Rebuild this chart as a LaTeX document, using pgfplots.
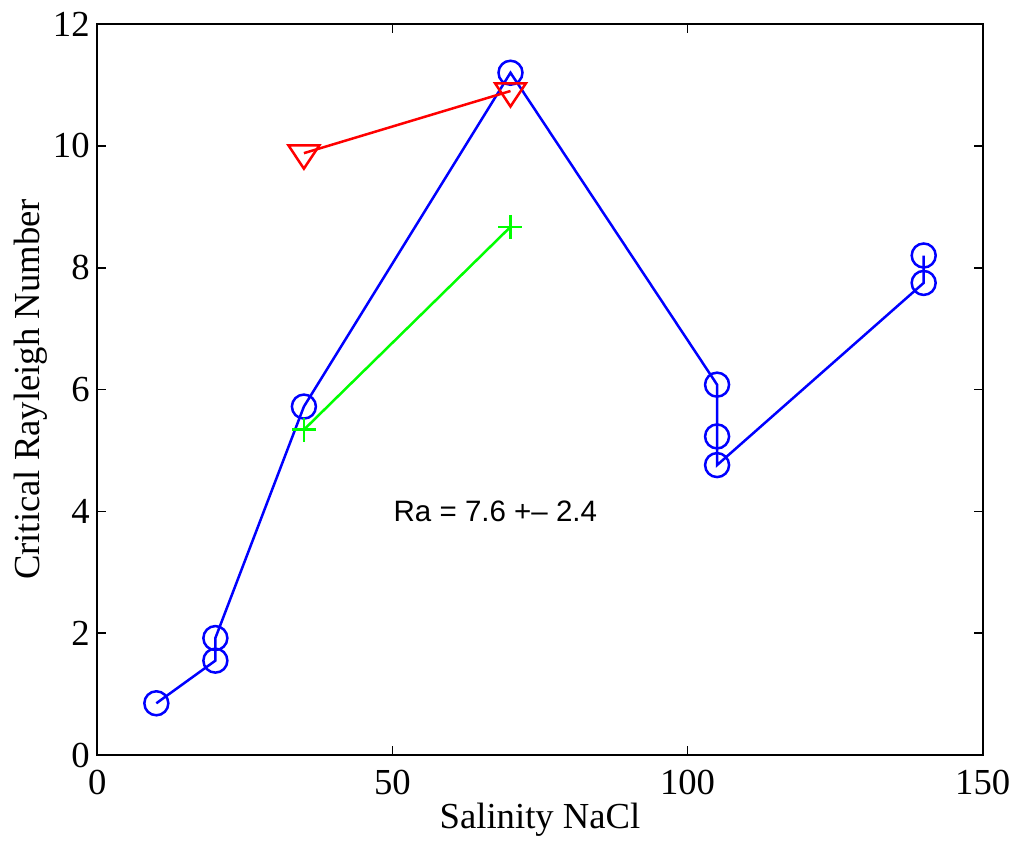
\documentclass[border=0pt]{standalone}
\usepackage{fontspec}
\setmainfont{Liberation Serif}
\newfontfamily\helv{Liberation Sans}
\usepackage{pgfplots}
\pgfplotsset{compat=1.18}
\definecolor{mblue}{RGB}{0,0,255}
\definecolor{mred}{RGB}{255,0,0}
\definecolor{mgreen}{RGB}{0,255,0}
\newcommand{\labfont}{\fontsize{11}{13}\selectfont}
\begin{document}
\begin{tikzpicture}
\begin{axis}[
    name=ax,
    scale only axis,
    width=265.6pt, height=219.3pt,
    xmin=0, xmax=150, ymin=0, ymax=12,
    xtick={0,50,100,150},
    ytick={0,2,4,6,8,10,12},
    tick align=inside,
    xtick pos=both, ytick pos=both,
    major tick length=2.65pt,
    axis line style={line width=0.5pt},
    every tick/.style={black, line width=0.5pt},
    /pgf/number format/assume math mode=true,
    scaled ticks=false,
    tick label style={font=\fontsize{11}{13}\selectfont, inner sep=0pt},
    xticklabel style={anchor=base, yshift=-11.7pt},
    yticklabel style={anchor=east, xshift=-2.1pt},
    every axis x label/.style={at={(axis description cs:0.5,-0.0999)}, anchor=base, inner sep=0pt, font=\labfont},
    every axis y label/.style={at={(axis description cs:-0.0655,0.5)}, rotate=90, anchor=base, inner sep=0pt, font=\labfont},
    xlabel={Salinity NaCl},
    ylabel={Critical Rayleigh Number},
    clip=false,
]
\addplot[color=mblue, line width=0.75pt, mark=o, mark size=3.6pt,
    mark options={line width=0.75pt}] coordinates {
    (10,0.85) (20,1.55) (20,1.92) (35,5.72) (70,11.2)
    (105,6.08) (105,5.23) (105,4.76) (140,7.75) (140,8.2)
};
\addplot[color=mred, line width=0.75pt, mark=triangle, mark size=4.65pt,
    mark options={rotate=180, xscale=1.15, line width=0.75pt}] coordinates {
    (35,9.88) (70,10.9)
};
\addplot[color=mgreen, line width=0.75pt, mark=+, mark size=3.6pt,
    mark options={line width=0.75pt}] coordinates {
    (35,5.34) (70,8.67)
};
\node[anchor=base west, inner sep=0pt, font=\helv\fontsize{8.85}{10}\selectfont]
    at (axis cs:50.1,3.83) {Ra = 7.6 +– 2.4};
\end{axis}
\pgfresetboundingbox
\path[use as bounding box] ([shift={(-29.19pt,-25.5pt)}]ax.south west)
    rectangle ([shift={(9.99pt,7.2pt)}]ax.north east);
\end{tikzpicture}
\end{document}
